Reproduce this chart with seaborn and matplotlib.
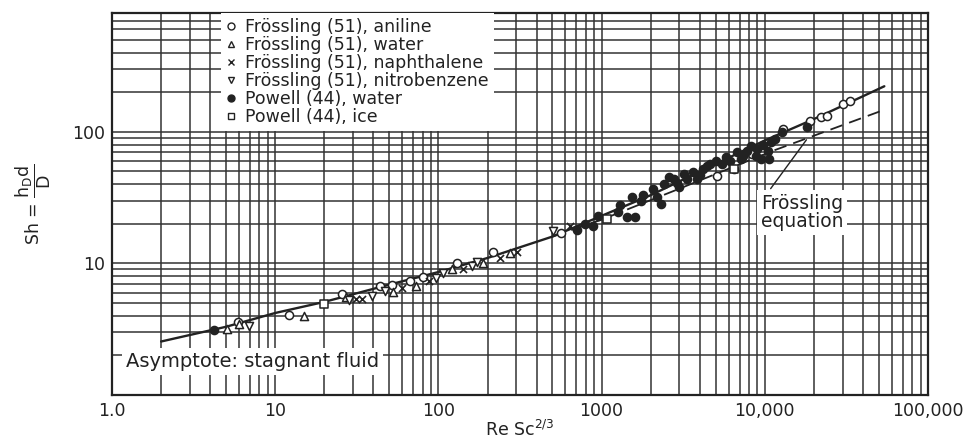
import numpy as np
import pandas as pd
import matplotlib
matplotlib.use("Agg")
import matplotlib.pyplot as plt
import seaborn as sns
from matplotlib.ticker import FixedLocator, LogLocator, NullFormatter

sns.set_theme(style="white")
plt.rcParams['font.family'] = ['DejaVu Sans']
plt.rcParams['mathtext.fontset'] = 'dejavusans'

# ---- data ----
aniline_x = [5.9, 12.2, 25.8, 43.6, 51.6, 66.7, 80, 130, 216, 560, 5130, 6440, 8400, 13000, 19000, 22000, 24000, 30000, 33500]
aniline_y = [3.57, 4.04, 5.9, 6.7, 6.8, 7.3, 7.95, 10, 12.3, 16.9, 46.5, 52, 68, 105, 121, 130, 132, 163, 172]

water_x = [5.1, 6.0, 15.1, 27.3, 52.5, 73, 122, 188, 275]
water_y = [3.2, 3.45, 4.0, 5.6, 6.1, 6.7, 9.1, 10, 11.9]

naph_x = [31.4, 34, 60, 88, 141, 238, 305, 640]
naph_y = [5.4, 5.4, 6.45, 7.3, 9.1, 10.9, 12.3, 19.4]

nitro_x = [6.9, 28.5, 39, 46.9, 97, 106, 160, 172, 505]
nitro_y = [3.33, 5.25, 5.7, 6.2, 7.7, 8.4, 9.6, 10.3, 17.5]

powell_w_x = [4.2, 706, 790, 890, 950, 1260, 1300, 1440, 1530, 1610, 1740, 1800, 2070, 2190, 2300, 2400,
              2580, 2770, 2900, 3000, 3200, 3350, 3650, 3830, 4000, 4180, 4400, 4600, 5000, 5500, 5800,
              6150, 6800, 7100, 7400, 7800, 8200, 8800, 9000, 9500, 9800, 10400, 10600, 10900, 11500, 12700, 18200]
powell_w_y = [3.1, 17.8, 20.1, 19.4, 23, 24.8, 28, 22.7, 32, 22.7, 30, 33, 37, 32, 28.5, 40,
              45.6, 44, 41, 38, 48, 44, 49.6, 44, 47, 52, 55, 57, 60, 57, 64,
              60, 70, 62.5, 66, 71.7, 78, 66, 74, 62.5, 80, 71.7, 62.5, 84, 88, 100, 109]

powell_i_x = [20, 1080, 6440]
powell_i_y = [4.9, 21.9, 52]

curve_x = [2, 5, 10, 20, 50, 100, 200, 500, 1000, 2000, 5000, 10000, 20000, 54000]
curve_y = [2.55, 3.3, 4.2, 5.1, 6.9, 8.6, 11.0, 16, 23, 33, 57, 86, 125, 222]

fross_x = [500, 1000, 3000, 11300, 51500]
fross_y = [16, 21.5, 37, 72, 144]

leader_x = [10860, 18000]
leader_y = [37, 87]

x_ticks = [1, 10, 100, 1000, 10000, 100000]
x_labels = ["1.0", "10", "100", "1000", "10,000", "100,000"]
y_ticks = [10, 100]
y_labels = ["10", "100"]

series = [
    ("Frössling (51), aniline", aniline_x, aniline_y, "o", "white"),
    ("Frössling (51), water", water_x, water_y, "^", "white"),
    ("Frössling (51), naphthalene", naph_x, naph_y, "x", "#222222"),
    ("Frössling (51), nitrobenzene", nitro_x, nitro_y, "v", "white"),
    ("Powell (44), water", powell_w_x, powell_w_y, "o", "#222222"),
    ("Powell (44), ice", powell_i_x, powell_i_y, "s", "white"),
]

ink = "#222222"
fig = plt.figure(figsize=(9.68, 4.43), dpi=100)
ax = fig.add_axes([112/968, 48/443, 816/968, 382/443])
ax.set_xscale("log")
ax.set_yscale("log")
ax.set_xlim(1, 100000)
ax.set_ylim(1, 800)

# grid
ax.xaxis.set_minor_locator(LogLocator(base=10, subs=np.arange(2, 10)))
ax.yaxis.set_minor_locator(LogLocator(base=10, subs=np.arange(2, 10)))
ax.xaxis.set_minor_formatter(NullFormatter())
ax.yaxis.set_minor_formatter(NullFormatter())
ax.grid(True, which="both", color="#333333", linewidth=1.1, zorder=0)
ax.set_axisbelow(True)

# curves
sns.lineplot(x=curve_x, y=curve_y, ax=ax, color=ink, linewidth=1.7, estimator=None, sort=False, zorder=3)
sns.lineplot(x=fross_x, y=fross_y, ax=ax, color=ink, linewidth=1.3, estimator=None, sort=False,
             zorder=3, dashes=False, linestyle=(0, (7, 4)))
sns.lineplot(x=leader_x, y=leader_y, ax=ax, color=ink, linewidth=1.0, estimator=None, sort=False, zorder=3)

handles = []
for label, xs, ys, m, fc in series:
    df = pd.DataFrame({"x": xs, "y": ys})
    if m == "x":
        sns.scatterplot(data=df, x="x", y="y", ax=ax, marker="x", s=26, color=ink, linewidth=1.2, zorder=4)
    else:
        sns.scatterplot(data=df, x="x", y="y", ax=ax, marker=m, s=34, facecolor=fc, edgecolor=ink,
                        linewidth=1.1, zorder=4)
    h = plt.Line2D([], [], linestyle="none", marker=m, markersize=5,
                   markerfacecolor=(fc if m != "x" else ink), markeredgecolor=ink, markeredgewidth=1.0)
    handles.append((h, label))

leg = ax.legend([h for h, _ in handles], [l for _, l in handles], loc="upper left",
                bbox_to_anchor=(0.133, 1.0), frameon=True, fancybox=False, facecolor="white",
                edgecolor="none", framealpha=1.0, fontsize=12.5, labelspacing=0.0,
                handlelength=0.6, handletextpad=0.5, borderpad=0.3, borderaxespad=0.0)
for t in leg.get_texts():
    t.set_color(ink)

ax.text(0.017, 0.088, "Asymptote: stagnant fluid", transform=ax.transAxes, fontsize=14, color=ink,
        va="center", ha="left", zorder=6,
        bbox=dict(facecolor="white", edgecolor="none", pad=3.0))
ax.text(0.795, 0.478, "Frössling\nequation", transform=ax.transAxes, fontsize=13.5, color=ink,
        va="center", ha="left", linespacing=0.95, zorder=6,
        bbox=dict(facecolor="white", edgecolor="none", pad=3.0))

ax.xaxis.set_major_locator(FixedLocator(x_ticks))
ax.set_xticklabels(x_labels)
ax.yaxis.set_major_locator(FixedLocator(y_ticks))
ax.set_yticklabels(y_labels)
ax.tick_params(which="both", length=0, labelsize=12.5, colors=ink, pad=5)

ax.set_xlabel(r"Re Sc$^{2/3}$", fontsize=12.5, color=ink, labelpad=0)
ax.set_ylabel(r"Sh = $\dfrac{\mathrm{h_D d}}{\mathrm{D}}$", fontsize=12.5, color=ink, labelpad=14)

for sp in ax.spines.values():
    sp.set_color(ink)
    sp.set_linewidth(1.6)
    sp.set_visible(True)

fig.savefig("out.png", dpi=100, facecolor="white")
